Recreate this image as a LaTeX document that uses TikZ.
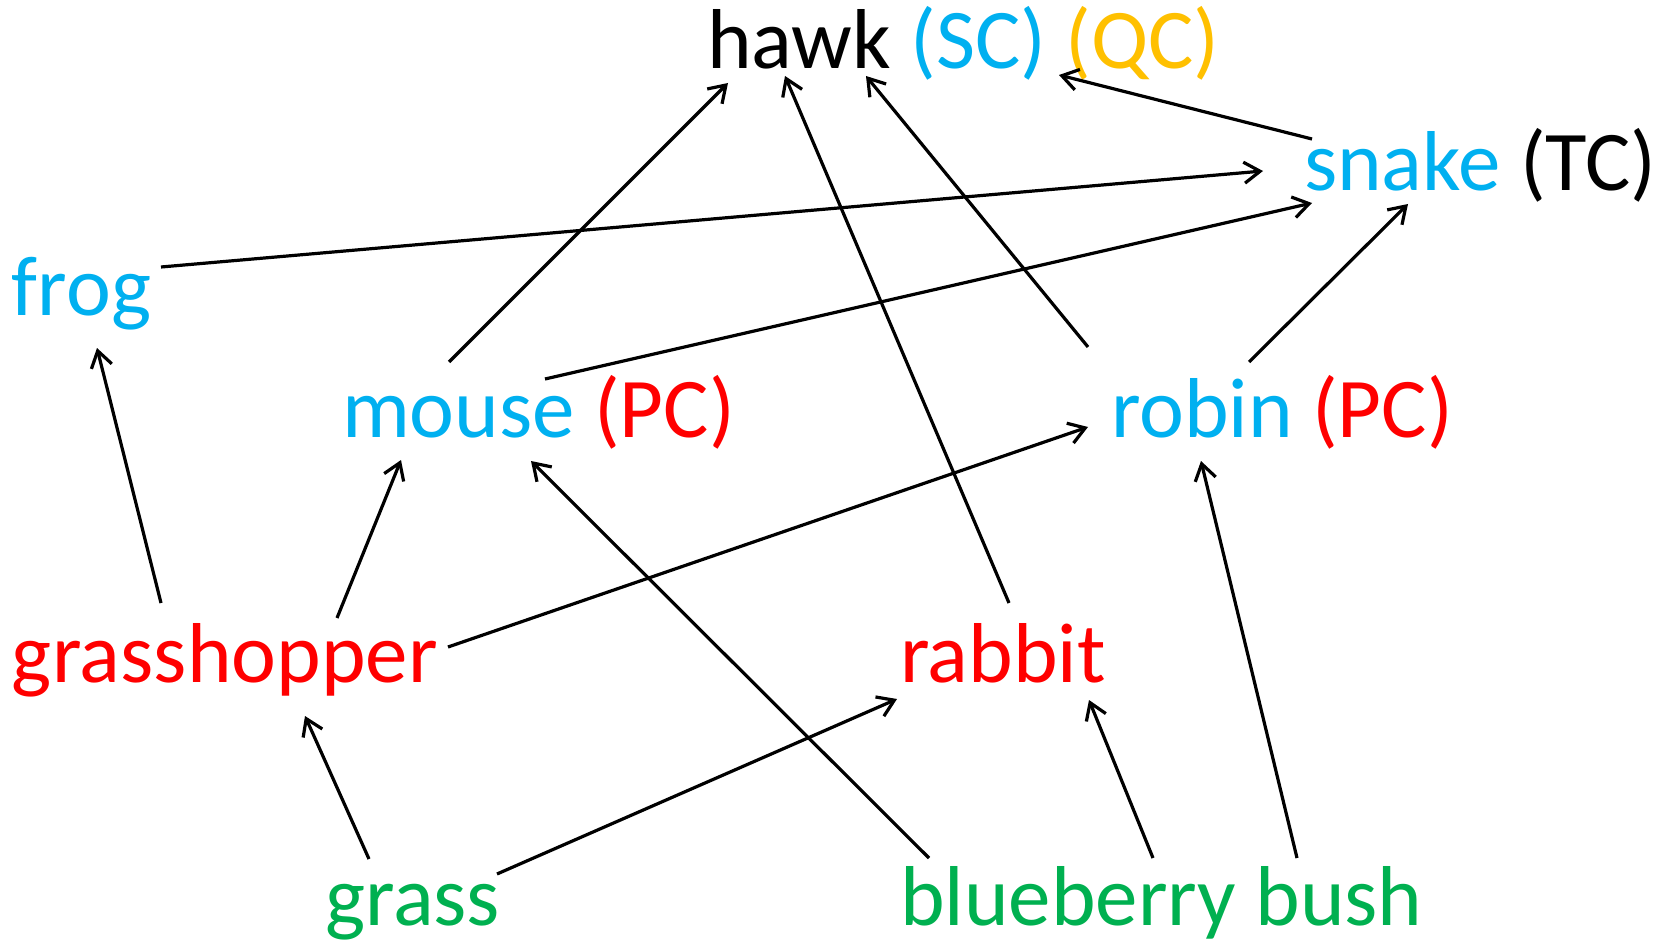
\documentclass[tikz,border=0pt]{standalone}
\usepackage{fontspec}
\setmainfont{Carlito}
\usetikzlibrary{arrows.meta}
\definecolor{cblue}{RGB}{0,176,240}
\definecolor{cred}{RGB}{255,0,0}
\definecolor{cgreen}{RGB}{0,176,80}
\definecolor{cgold}{RGB}{255,192,0}
\tikzset{
  species/.style={inner sep=0pt, outer sep=0pt, anchor=base west,
    font=\fontsize{85}{100}\selectfont},
  feeds/.style={draw=black, line width=3.2pt,
    -{Straight Barb[length=16pt,width=21pt,line width=3.2pt]}},
}
\newcommand{\at}[3]{([shift={(#2,#3)}]#1.base west)}
\begin{document}
\begin{tikzpicture}[x=1pt,y=-1pt]
\useasboundingbox (0,0) rectangle (1674,944);

% species labels
\node[species] (hawk) at (707,69) {hawk \textcolor{cblue}{(SC)} \textcolor{cgold}{(QC)}};
\node[species] (snake) at (1304,191) {\textcolor{cblue}{snake} (TC)};
\node[species, text=cblue] (frog) at (12,315) {frog};
\node[species] (mouse) at (342,437) {\textcolor{cblue}{mouse} \textcolor{cred}{(PC)}};
\node[species] (robin) at (1111,437) {\textcolor{cblue}{robin} \textcolor{cred}{(PC)}};
\node[species, text=cred] (grasshopper) at (12,682) {grasshopper};
\node[species, text=cred] (rabbit) at (900,682) {rabbit};
\node[species, text=cgreen] (grass) at (325,925) {grass};
\node[species, text=cgreen] (blueberry) at (900,925) {blueberry bush};

% who is eaten by whom
\draw[feeds] \at{frog}{149}{-48} -- \at{snake}{-41}{-20};
\draw[feeds] \at{mouse}{107}{-75} -- \at{hawk}{21}{14};
\draw[feeds] \at{mouse}{203}{-58} -- \at{snake}{8}{12};
\draw[feeds] \at{robin}{-23}{-90} -- \at{hawk}{159}{7};
\draw[feeds] \at{robin}{138}{-75} -- \at{snake}{104}{13};
\draw[feeds] \at{snake}{8}{-52} -- \at{hawk}{352}{6};
\draw[feeds] \at{rabbit}{109}{-79} -- \at{hawk}{78}{7};
\draw[feeds] \at{grasshopper}{149}{-79} -- \at{frog}{85}{33};
\draw[feeds] \at{grasshopper}{325}{-64} -- \at{mouse}{59}{23};
\draw[feeds] \at{grasshopper}{436}{-35} -- \at{robin}{-23}{-10};
\draw[feeds] \at{grass}{44}{-66} -- \at{grasshopper}{293}{34};
\draw[feeds] \at{grass}{172}{-51} -- \at{rabbit}{-3}{17};
\draw[feeds] \at{blueberry}{29}{-67} -- \at{mouse}{189}{24};
\draw[feeds] \at{blueberry}{253}{-67} -- \at{rabbit}{189}{18};
\draw[feeds] \at{blueberry}{397}{-67} -- \at{robin}{90}{24};
\end{tikzpicture}
\end{document}
